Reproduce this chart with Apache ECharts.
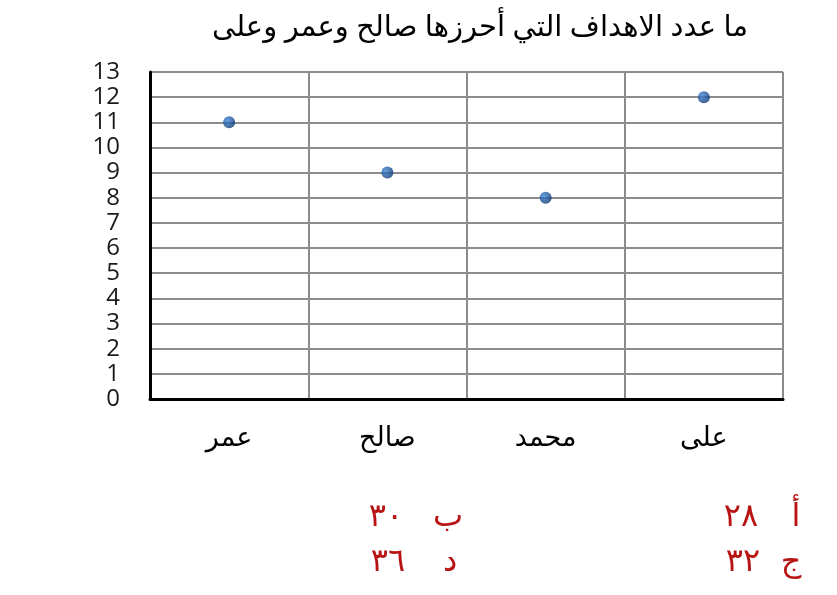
<!DOCTYPE html>
<html>
<head>
<meta charset="utf-8">
<script src="https://cdn.jsdelivr.net/npm/echarts@6/dist/echarts.min.js"></script>
<style>
html,body{margin:0;padding:0;background:#fff;}
#c{width:837px;height:595px;}
</style>
</head>
<body>
<div id="c"></div>
<script>
const titleText = 'ما عدد الاهداف التي أحرزها صالح وعمر وعلى';
const categories = ['عمر', 'صالح', 'محمد', 'على'];
const goals = [11, 9, 8, 12];
const yMin = 0, yMax = 13, yStep = 1;
const choiceLetters = ['أ', 'ب', 'ج', 'د'];
const choiceValues = ['٢٨', '٣٠', '٣٢', '٣٦'];

const FONT = '"Open Sans", "DejaVu Sans", sans-serif';
const red = '#b81414';
const choicePos = [
  {lx: 796, vx: 741, y: 517},
  {lx: 448, vx: 386, y: 517},
  {lx: 791, vx: 743, y: 562},
  {lx: 450, vx: 388, y: 562}
];
const graphics = [];
choiceLetters.forEach((l, i) => {
  const p = choicePos[i];
  graphics.push({type: 'text', x: p.lx, y: p.y,
    style: {text: l, font: '32px ' + FONT, fill: red, textAlign: 'center', textVerticalAlign: 'middle'}});
  graphics.push({type: 'text', x: p.vx, y: p.y,
    style: {text: choiceValues[i], font: '32px ' + FONT, fill: red, textAlign: 'center', textVerticalAlign: 'middle'}});
});

const chart = echarts.init(document.getElementById('c'));
chart.setOption({
  animation: false,
  backgroundColor: '#fff',
  title: {
    text: titleText, left: 475, top: 8, textAlign: 'center',
    textStyle: {fontFamily: FONT, fontSize: 29, fontWeight: 'normal', color: '#000'}
  },
  grid: {left: 150, right: 54, top: 72, bottom: 196},
  xAxis: {
    type: 'category', data: categories, boundaryGap: true,
    axisLine: {lineStyle: {color: '#000', width: 3}},
    axisTick: {show: false},
    axisLabel: {fontFamily: FONT, fontSize: 27, color: '#000', margin: 26},
    splitLine: {show: true, lineStyle: {color: '#8c8c8c', width: 2}}
  },
  yAxis: {
    type: 'value', min: yMin, max: yMax, interval: yStep,
    axisLine: {show: true, lineStyle: {color: '#000', width: 3}},
    axisTick: {show: false},
    axisLabel: {fontFamily: FONT, fontSize: 24, color: '#1a1a1a', margin: 30, lineHeight: 24},
    splitLine: {show: true, lineStyle: {color: '#8c8c8c', width: 2}}
  },
  series: [{
    type: 'scatter', data: goals, symbolSize: 12,
    itemStyle: {
      color: new echarts.graphic.RadialGradient(0.35, 0.35, 0.7, [
        {offset: 0, color: '#3f86d6'}, {offset: 1, color: '#0a3572'}
      ])
    }
  }],
  graphic: graphics
});
</script>
</body>
</html>
